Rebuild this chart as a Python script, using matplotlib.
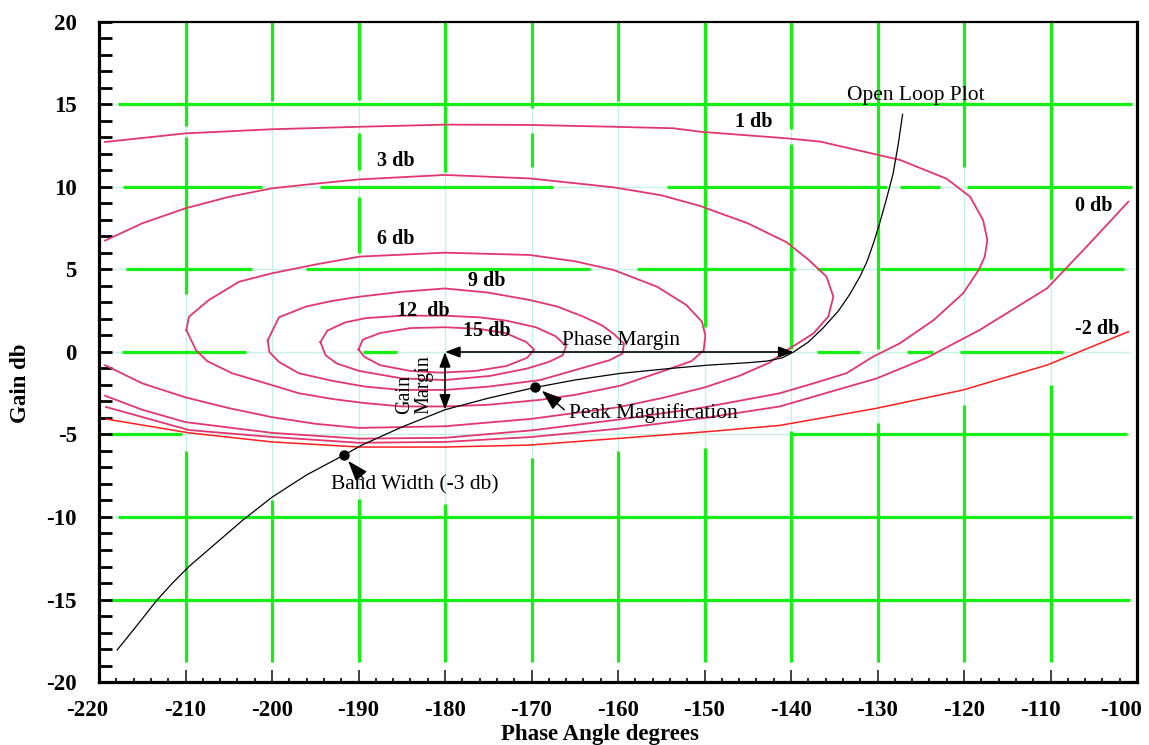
import matplotlib
matplotlib.use("Agg")
import matplotlib.pyplot as plt
from matplotlib.patches import ArrowStyle
from matplotlib.ticker import MultipleLocator
from matplotlib.transforms import ScaledTranslation

plt.rcParams["font.family"] = ["Liberation Serif", "DejaVu Serif"]
plt.rcParams["axes.unicode_minus"] = False

# ---------------- data: closed-loop magnitude contours (phase deg, gain dB) ----------------
m15_phase = [-190.0, -189.5, -187.5, -184.0, -180.0, -176.0, -172.9, -170.6, -169.7,
             -170.5, -172.9, -176.5, -180.5, -184.0, -187.5, -189.3, -190.0]
m15_gain = [0.15, 0.75, 1.15, 1.45, 1.5, 1.4, 1.13, 0.6, 0.15,
            -0.35, -0.85, -1.15, -1.25, -1.15, -0.8, -0.3, 0.15]

m12_phase = [-194.4, -193.6, -191.5, -189.2, -185.0, -180.0, -176.0, -172.9, -169.5, -167.2,
             -166.0, -166.4, -168.0, -170.5, -174.8, -180.0, -185.0, -189.9, -192.5, -193.8, -194.4]
m12_gain = [0.6, 1.3, 1.8, 2.05, 2.2, 2.2, 2.1, 1.9, 1.5, 0.95,
            0.35, -0.2, -0.6, -1.0, -1.45, -1.7, -1.6, -1.15, -0.7, -0.2, 0.6]

m9_phase = [-200.5, -199.2, -196.1, -193.0, -189.9, -185.0, -180.0, -175.0, -170.2, -167.0,
            -164.0, -161.8, -160.5, -159.3, -159.5, -161.0, -164.0, -169.0, -175.0, -180.0,
            -185.0, -189.2, -193.0, -196.9, -199.2, -200.3, -200.5]
m9_gain = [0.7, 2.1, 2.75, 3.1, 3.35, 3.65, 3.85, 3.6, 3.15, 2.75,
           2.14, 1.6, 1.1, 0.5, -0.1, -0.5, -0.95, -1.7, -2.1, -2.3,
           -2.3, -2.1, -1.75, -1.29, -0.6, 0.0, 0.7]

m6_phase = [-209.9, -209.6, -207.3, -203.8, -200.0, -195.0, -189.9, -180.0, -170.2, -165.0,
            -160.5, -155.5, -152.1, -150.3, -149.9, -150.1, -151.5, -154.4, -159.8, -165.0,
            -169.0, -175.0, -180.0, -185.0, -189.2, -193.0, -196.9, -201.0, -204.6, -207.5,
            -208.8, -209.9]
m6_gain = [1.33, 2.14, 3.15, 4.26, 4.77, 5.3, 5.78, 6.02, 5.88, 5.5,
           4.97, 3.96, 2.85, 1.84, 1.0, 0.1, -0.55, -1.09, -2.05, -2.6,
           -2.9, -3.2, -3.3, -3.3, -3.1, -2.85, -2.5, -1.85, -1.29, -0.55,
           0.12, 1.33]

m3_phase = [-219.3, -215.0, -210.0, -205.0, -200.0, -195.0, -189.9, -180.0, -170.2, -160.5,
            -155.0, -150.5, -145.0, -140.5, -138.0, -135.9, -135.1, -135.7, -137.4, -140.5,
            -142.5, -146.0, -150.0, -155.0, -160.0, -170.0, -180.0, -190.0, -195.0, -200.0,
            -205.0, -210.0, -215.0, -219.3]
m3_gain = [6.75, 7.8, 8.71, 9.4, 9.92, 10.2, 10.46, 10.73, 10.52, 9.98,
           9.5, 8.85, 7.8, 6.65, 5.6, 4.57, 3.35, 2.14, 1.13, 0.1,
           -0.65, -1.45, -2.15, -2.8, -3.35, -4.05, -4.5, -4.6, -4.35, -3.95,
           -3.4, -2.75, -1.9, -0.8]

m1_phase = [-219.3, -210.0, -200.0, -189.9, -179.9, -170.2, -160.5, -153.6, -150.5, -140.5,
            -136.6, -127.4, -122.0, -119.3, -117.8, -117.3, -117.6, -118.3, -120.1, -123.5,
            -127.4, -130.5, -133.6, -137.4, -141.3, -150.0, -160.0, -170.0, -180.0, -190.0,
            -200.0, -210.0, -215.0, -219.3]
m1_gain = [12.73, 13.25, 13.5, 13.65, 13.78, 13.76, 13.65, 13.56, 13.35, 12.95,
           12.75, 11.64, 10.5, 9.41, 8.0, 6.79, 5.78, 4.97, 3.56, 1.94,
           0.53, -0.28, -1.29, -1.9, -2.5, -3.35, -4.1, -4.75, -5.2, -5.25,
           -4.9, -4.25, -3.5, -2.65]

m0_phase = [-219.2, -209.6, -200.0, -190.0, -180.0, -170.0, -160.0, -150.0, -141.3, -130.1,
            -124.3, -118.2, -110.4, -105.8, -101.0]
m0_gain = [-3.33, -4.73, -5.15, -5.5, -5.45, -5.15, -4.65, -4.0, -3.3, -1.6,
           -0.35, 1.33, 3.86, 6.4, 9.11]

mn2_phase = [-219.2, -209.6, -200.0, -189.9, -180.0, -170.2, -159.8, -149.7, -141.3, -130.1,
             -120.1, -110.4, -101.0]
mn2_gain = [-4.06, -4.9, -5.45, -5.76, -5.76, -5.64, -5.23, -4.83, -4.45, -3.41,
            -2.3, -0.79, 1.23]

# open-loop frequency response
ol_phase = [-217.9, -215.5, -213.4, -211.5, -209.6, -206.5, -203.4, -200.0, -196.0, -191.7,
            -189.6, -185.0, -180.0, -175.0, -169.6, -165.0, -159.8, -154.0, -149.7, -145.0,
            -142.8, -141.0, -139.7, -138.0, -136.3, -134.5, -133.2, -132.0, -131.2, -130.4,
            -129.7, -128.9, -128.2, -127.6, -127.1]
ol_gain = [-18.06, -16.5, -15.1, -14.0, -13.0, -11.6, -10.2, -8.8, -7.45, -6.25,
           -5.64, -4.55, -3.5, -2.8, -2.15, -1.7, -1.3, -1.0, -0.8, -0.65,
           -0.55, -0.35, 0.0, 0.6, 1.45, 2.5, 3.5, 4.6, 5.5, 6.7,
           7.9, 9.4, 10.8, 12.6, 14.4]

bandwidth_pt = (-191.7, -6.25)
peak_pt = (-169.6, -2.15)
gain_margin_pt = (-180.0, -3.5)
crossover_pt = (-139.7, 0.0)
critical_pt = (-180.0, 0.0)

x_ticks = list(range(-220, -99, 10))
y_ticks = list(range(-20, 21, 5))
grid_phase = list(range(-210, -109, 10))
grid_gain = [-15, -10, -5, 0, 5, 10, 15]

# ---------------- styling ----------------
PINK = "#e2366c"
RED = "#ff1e1e"
GREEN = "#14f014"
FAINT = "#c4f2e0"

fig = plt.figure(figsize=(11.49, 7.45), dpi=100)
ax = fig.add_axes([99 / 1149, 1 - 682 / 745, 1038 / 1149, 660 / 745])
ax.set_xlim(-220, -100)
ax.set_ylim(-20, 20)

# grid: pale full-length lines with bright green visible runs on top
v_runs = {
    -210: [(-18.8, -6.0), (3.5, 13.0), (13.7, 20)],
    -200: [(-18.8, -9.0), (15.2, 20)],
    -190: [(-18.8, -8.9), (6.0, 9.4), (11.0, 13.3), (15.3, 20)],
    -180: [(-18.8, -9.2), (10.9, 20)],
    -170: [(-18.8, -6.4), (11.2, 13.3), (14.8, 20)],
    -160: [(-18.8, -6.0), (15.2, 20)],
    -150: [(-18.8, -5.8), (1.5, 20)],
    -140: [(-18.8, -4.8), (0.2, 12.6), (13.5, 20)],
    -130: [(-18.8, -4.3), (0.2, 20)],
    -120: [(-18.8, -3.2), (11.2, 20)],
    -110: [(-18.8, -2.0), (4.4, 20)],
}
h_runs = {
    15: [(-217.8, -100.6)],
    10: [(-217.2, -201.2), (-194.5, -167.5), (-154.3, -128.9), (-127.4, -122.8), (-119.7, -100.6)],
    5: [(-216.9, -202.3), (-196.1, -163.2), (-157.8, -139.5), (-137.0, -131.7), (-129.7, -101.5)],
    0: [(-217.3, -203.0), (-189.5, -185.5), (-137.0, -132.0), (-126.6, -123.6), (-120.5, -108.6)],
    -5: [(-219.0, -210.4), (-140.1, -101.2)],
    -10: [(-217.8, -100.6)],
    -15: [(-219.0, -100.8)],
}
for gx in grid_phase:
    ax.vlines(gx, -18.8, 20, color=FAINT, lw=1.0, zorder=1)
    for lo, hi in v_runs[gx]:
        ax.vlines(gx, lo, hi, color=GREEN, lw=2.3, zorder=1.5)
for gy in grid_gain:
    ax.hlines(gy, -218.5, -100.8, color=FAINT, lw=1.0, zorder=1)
    for lo, hi in h_runs[gy]:
        ax.hlines(gy, lo, hi, color=GREEN, lw=2.3, zorder=1.5)

# magnitude contours
for ph, g in [(m15_phase, m15_gain), (m12_phase, m12_gain), (m9_phase, m9_gain),
              (m6_phase, m6_gain), (m3_phase, m3_gain), (m1_phase, m1_gain),
              (m0_phase, m0_gain)]:
    ax.plot(ph, g, color=PINK, lw=1.3, zorder=3, solid_joinstyle="round")
ax.plot(mn2_phase, mn2_gain, color=RED, lw=1.1, zorder=3)

# open-loop locus
ax.plot(ol_phase, ol_gain, color="black", lw=0.9, zorder=4)
ax.plot(*bandwidth_pt, "o", color="black", ms=6.5, zorder=5)
ax.plot(*peak_pt, "o", color="black", ms=6.5, zorder=5)

# margin arrows
dbl = ArrowStyle("<|-|>", head_length=0.75, head_width=0.28)
ax.annotate("", xy=crossover_pt, xytext=critical_pt,
            arrowprops=dict(arrowstyle=dbl, color="black", lw=1.2,
                            mutation_scale=12, shrinkA=0, shrinkB=0), zorder=5)
ax.annotate("", xy=gain_margin_pt, xytext=critical_pt,
            arrowprops=dict(arrowstyle=dbl, color="black", lw=1.2,
                            mutation_scale=12, shrinkA=0, shrinkB=0), zorder=5)

# pointer arrows
single = ArrowStyle("-|>", head_length=0.9, head_width=0.32)
ax.annotate("", xy=(-168.8, -2.35), xytext=(-166.2, -3.5),
            arrowprops=dict(arrowstyle=single, color="black", lw=1.0,
                            mutation_scale=14, shrinkA=0, shrinkB=0), zorder=5)
ax.annotate("", xy=(-191.2, -6.6), xytext=(-189.4, -7.7),
            arrowprops=dict(arrowstyle=single, color="black", lw=1.0,
                            mutation_scale=14, shrinkA=0, shrinkB=0), zorder=5)

# contour labels
lbl = dict(fontsize=14.5, fontweight="bold", va="baseline", ha="left", zorder=6)
ax.text(-146.5, 13.65, "1 db", **lbl)
ax.text(-187.9, 11.3, "3 db", **lbl)
ax.text(-187.9, 6.55, "6 db", **lbl)
ax.text(-177.3, 4.02, "9 db", **lbl)
ax.text(-185.5, 2.18, "12  db", **lbl)
ax.text(-177.9, 0.97, "15 db", **lbl)
ax.text(-107.2, 8.56, "0 db", **lbl)
ax.text(-107.2, 1.09, "-2 db", **lbl)

note = dict(fontsize=15.5, va="baseline", ha="left", zorder=6)
ax.text(-133.5, 15.3, "Open Loop Plot", **note)
ax.text(-166.5, 0.4, "Phase Margin", **note)
ax.text(-165.7, -4.02, "Peak Magnification", **note)
ax.text(-193.2, -8.36, "Band Width (-3 db)", **note)
# vertical two-line caption beside the gain-margin arrow, anchored at each baseline start
vnote = dict(fontsize=14.5, rotation=90, rotation_mode="anchor",
             ha="left", va="baseline", zorder=6)
ax.text(-184.1, -3.75, "Gain", **vnote)
ax.text(-181.95, -3.75, "Margin", **vnote)

# axes, ticks, labels
ax.set_xticks(x_ticks)
ax.set_yticks(y_ticks)
ax.xaxis.set_minor_locator(MultipleLocator(2))
ax.yaxis.set_minor_locator(MultipleLocator(1))
ax.tick_params(axis="y", which="both", direction="in", length=9.5, width=2.0,
               color="black", pad=16, labelsize=16.5)
ax.tick_params(axis="x", which="major", direction="in", length=8.5, width=1.2,
               color="#222222", pad=13, labelsize=16.5)
ax.tick_params(axis="x", which="minor", direction="in", length=3.2, width=1.2,
               color="black")
ax.tick_params(top=False, right=False, which="both")
for t in ax.get_xticklabels() + ax.get_yticklabels():
    t.set_fontweight("bold")

# nudge the outermost phase labels inward as printed on the chart
label_nudge_pt = {-220: -8.5, -110: -7.5, -100: -11.5}
for val, t in zip(x_ticks, ax.get_xticklabels()):
    if val in label_nudge_pt:
        t.set_transform(t.get_transform() +
                        ScaledTranslation(label_nudge_pt[val] / 72, 0, fig.dpi_scale_trans))

for side, w in [("left", 2.3), ("bottom", 2.3), ("right", 2.3), ("top", 1.6)]:
    ax.spines[side].set_linewidth(w)
    ax.spines[side].set_zorder(7)

ax.set_xlabel("Phase Angle degrees", fontsize=16.5, fontweight="bold",
              va="center", ha="center")
ax.xaxis.set_label_coords(0.483, -0.079)
ax.set_ylabel("Gain db", fontsize=16.5, fontweight="bold", va="center", ha="center")
ax.yaxis.set_label_coords(-0.076, 0.453)

fig.savefig("out.png", dpi=100)
